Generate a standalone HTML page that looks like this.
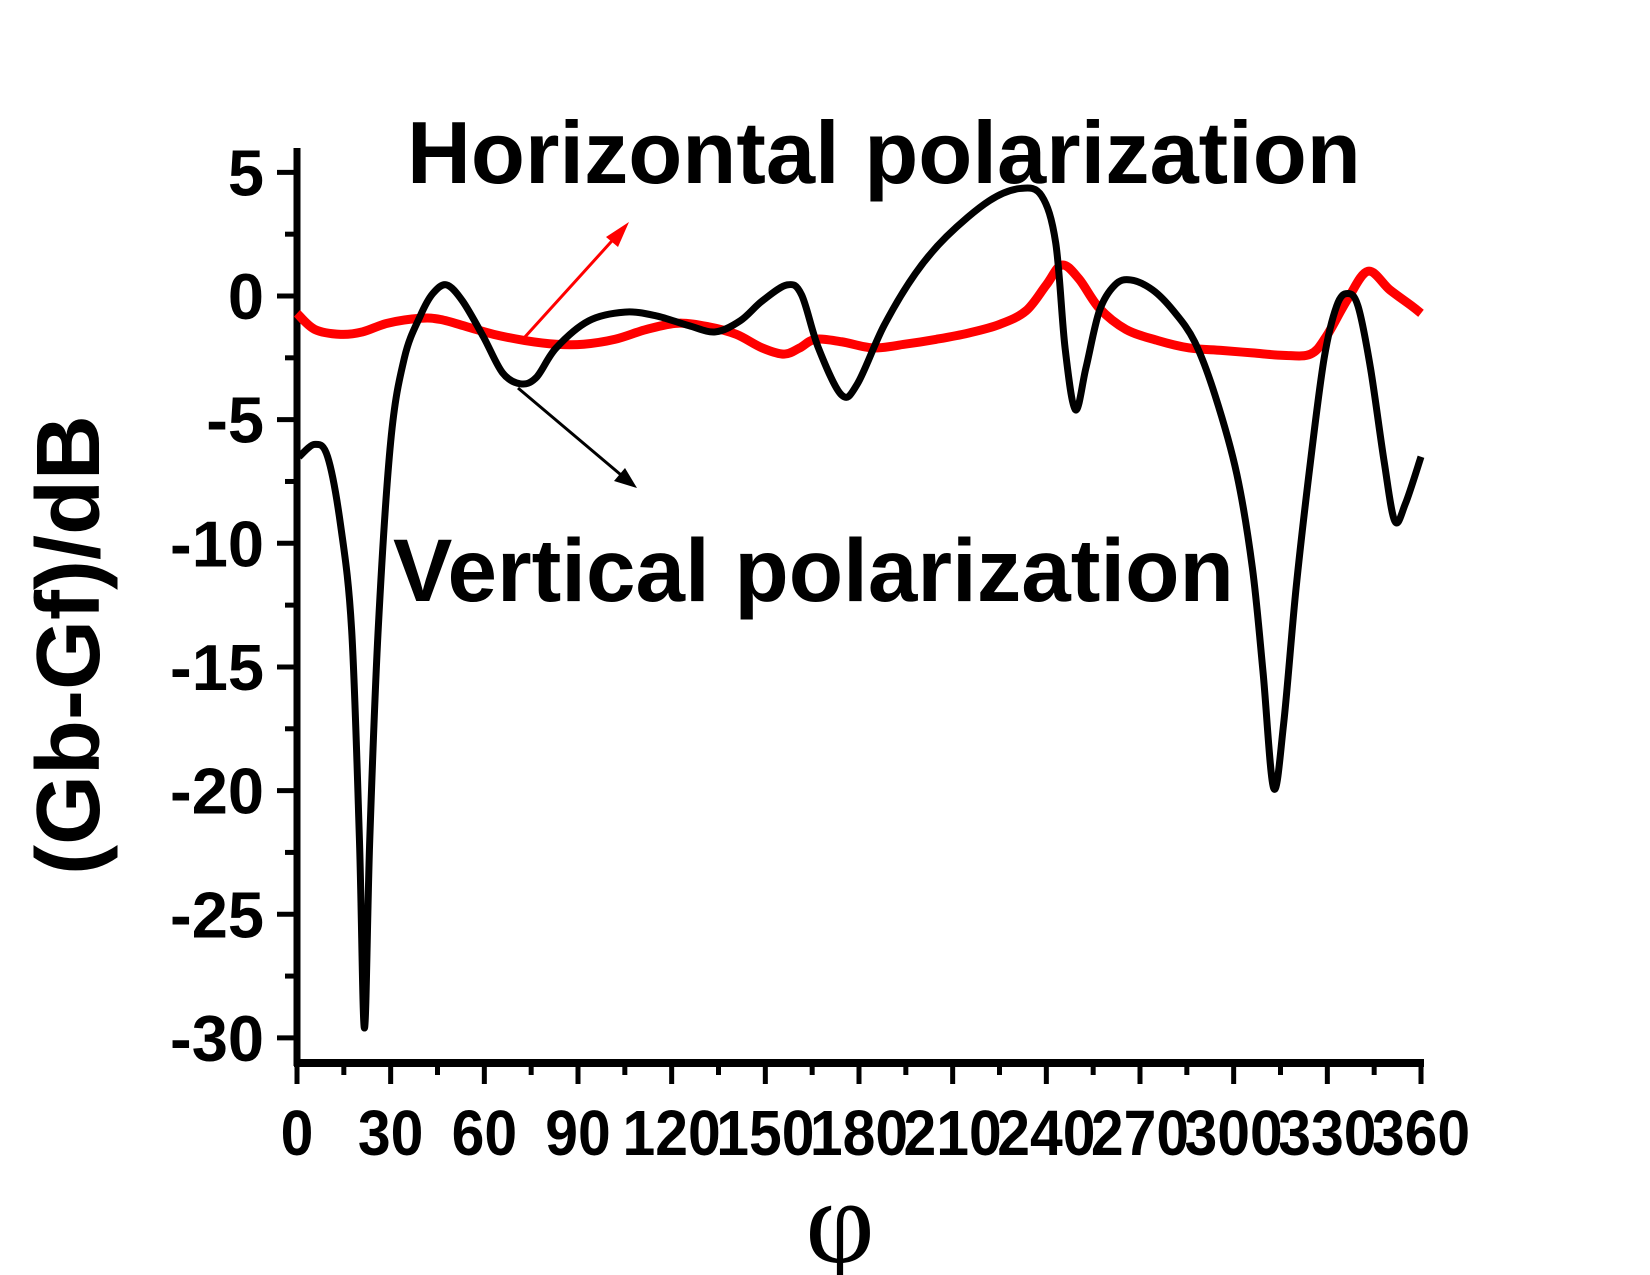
<!DOCTYPE html>
<html><head><meta charset="utf-8"><style>
html,body{margin:0;padding:0;background:#fff;}
svg{display:block;font-family:"Liberation Sans",Arial,sans-serif;}
</style></head><body>
<svg id="chart" width="1650" height="1275" viewBox="0 0 1650 1275" xmlns="http://www.w3.org/2000/svg">
<g id="axes"></g>
<g id="series"></g>
<text x="407" y="183" font-size="88.5" font-weight="bold">Horizontal polarization</text>
<text x="393" y="601" font-size="89" font-weight="bold">Vertical polarization</text>
<line x1="524" y1="338" x2="620" y2="232" stroke="#ff0000" stroke-width="3"/>
<polygon points="629,222 606,237 618,247" fill="#ff0000"/>
<line x1="518" y1="388" x2="627" y2="480" stroke="#000" stroke-width="3"/>
<polygon points="637,488 614,481 625,468" fill="#000"/>
<text transform="translate(99,645) rotate(-90)" text-anchor="middle" font-size="90" font-weight="bold">(Gb-Gf)/dB</text>
<text x="840" y="1262" text-anchor="middle" font-size="120" font-family="Liberation Serif, serif">φ</text>
</svg>
<script>
const xTicks = [0,30,60,90,120,150,180,210,240,270,300,330,360];
const yTicks = [5,0,-5,-10,-15,-20,-25,-30];
const blackX = [0.7,5.7,9.8,14,17.5,20,21.6,23.3,26,30,34.4,39.5,43.5,47.9,53,59.7,65.8,71.5,76.6,83,93.5,105,115,125.5,134,142,149,157,161.6,167,174.4,179.5,188,198,208,221.7,231.8,238.5,243,246,249.3,252.7,257,262,267,274,280.7,287.5,294,301,306,309.4,312.8,316,320,324.6,329,333,336.4,339.8,343.8,348.2,351.6,355,360];
const blackY = [-6.5,-6.0,-6.5,-9.3,-13.5,-22,-29.6,-22,-13.5,-5.9,-2.5,-0.8,0.1,0.45,-0.2,-1.65,-3.1,-3.55,-3.3,-2.1,-1.0,-0.65,-0.8,-1.2,-1.45,-1.0,-0.2,0.45,0.05,-2.1,-4.0,-3.55,-1.2,0.9,2.4,3.85,4.35,4.05,2.15,-2.1,-4.6,-2.9,-0.6,0.45,0.65,0.25,-0.6,-1.85,-4.0,-7.2,-11,-15.2,-19.9,-17.3,-11.8,-6.7,-2.5,-0.4,0.1,-0.4,-2.9,-6.7,-9.1,-8.4,-6.5];
const redX = [0,5.7,14,21,29,39.5,46,54.6,63,73,83,91.8,101.9,112,122,132,140.7,149,156,161,166,174.4,184.5,194.7,204.8,215,225,233.5,240,245,250.4,257,265.5,275.7,285.8,296,306,316,324.6,329.6,336.4,343,350,357,360];
const redY = [-0.7,-1.35,-1.55,-1.45,-1.1,-0.9,-0.95,-1.25,-1.55,-1.8,-1.95,-1.95,-1.75,-1.35,-1.1,-1.25,-1.55,-2.1,-2.35,-2.1,-1.75,-1.85,-2.1,-1.95,-1.75,-1.5,-1.15,-0.6,0.45,1.25,0.7,-0.5,-1.35,-1.8,-2.1,-2.2,-2.3,-2.4,-2.35,-1.65,-0.15,1.0,0.25,-0.4,-0.7];

const NS = "http://www.w3.org/2000/svg";
const X0 = 297, X1 = 1421, Y0 = 296, PPU = 24.73;
function sx(v){ return X0 + (v/360)*(X1-X0); }
function sy(v){ return Y0 - v*PPU; }
function mk(tag, attrs, parent){
  const e = document.createElementNS(NS, tag);
  for (const k in attrs) e.setAttribute(k, attrs[k]);
  parent.appendChild(e);
  return e;
}
const axes = document.getElementById('axes');
const yAxis = mk('line', {x1:X0, y1:148, x2:X0, y2:1066, stroke:'#000', 'stroke-width':7}, axes);


const xAxis = mk('line', {x1:X0-3, y1:1063, x2:X1+3, y2:1063, stroke:'#000', 'stroke-width':8}, axes);



yTicks.forEach(function(v, i){
  const t = mk('line', {x1:X0-20, y1:sy(v), x2:X0, y2:sy(v), stroke:'#000', 'stroke-width':5}, axes);
  
  
  if (i < yTicks.length-1) {
    const m = mk('line', {x1:X0-12, y1:sy(v-2.5), x2:X0, y2:sy(v-2.5), stroke:'#000', 'stroke-width':5}, axes);
    
    
  }
  const l = mk('text', {x:264, y:sy(v)+23, 'text-anchor':'end', 'font-size':65, 'font-weight':'bold'}, axes);
  l.textContent = String(v);
  
  
});
xTicks.forEach(function(v, i){
  const t = mk('line', {x1:sx(v), y1:1063, x2:sx(v), y2:1084, stroke:'#000', 'stroke-width':5}, axes);
  
  
  if (i < xTicks.length-1) {
    const m = mk('line', {x1:sx(v+15), y1:1063, x2:sx(v+15), y2:1075, stroke:'#000', 'stroke-width':5}, axes);
    
    
  }
  const l = mk('text', {'text-anchor':'middle', 'font-size':64, 'font-weight':'bold', transform:'translate(' + sx(v) + ',1155) scale(0.92,1)'}, axes);
  l.textContent = String(v);
  
  
});

function smoothPath(xs, ys){
  const p = xs.map(function(x, i){ return [sx(x), sy(ys[i])]; });
  let d = 'M' + p[0][0] + ',' + p[0][1];
  for (let i = 0; i < p.length-1; i++){
    const a = p[Math.max(0,i-1)], b = p[i], c = p[i+1], e = p[Math.min(p.length-1,i+2)];
    const c1x = b[0] + (c[0]-a[0])/6, c1y = b[1] + (c[1]-a[1])/6;
    const c2x = c[0] - (e[0]-b[0])/6, c2y = c[1] - (e[1]-b[1])/6;
    d += ' C' + c1x + ',' + c1y + ' ' + c2x + ',' + c2y + ' ' + c[0] + ',' + c[1];
  }
  return d;
}
const series = document.getElementById('series');
const red = mk('path', {d:smoothPath(redX, redY), fill:'none', stroke:'#ff0000', 'stroke-width':9, 'stroke-linejoin':'round'}, series);


const blk = mk('path', {d:smoothPath(blackX, blackY), fill:'none', stroke:'#000', 'stroke-width':7, 'stroke-linejoin':'round'}, series);


</script>
</body></html>
